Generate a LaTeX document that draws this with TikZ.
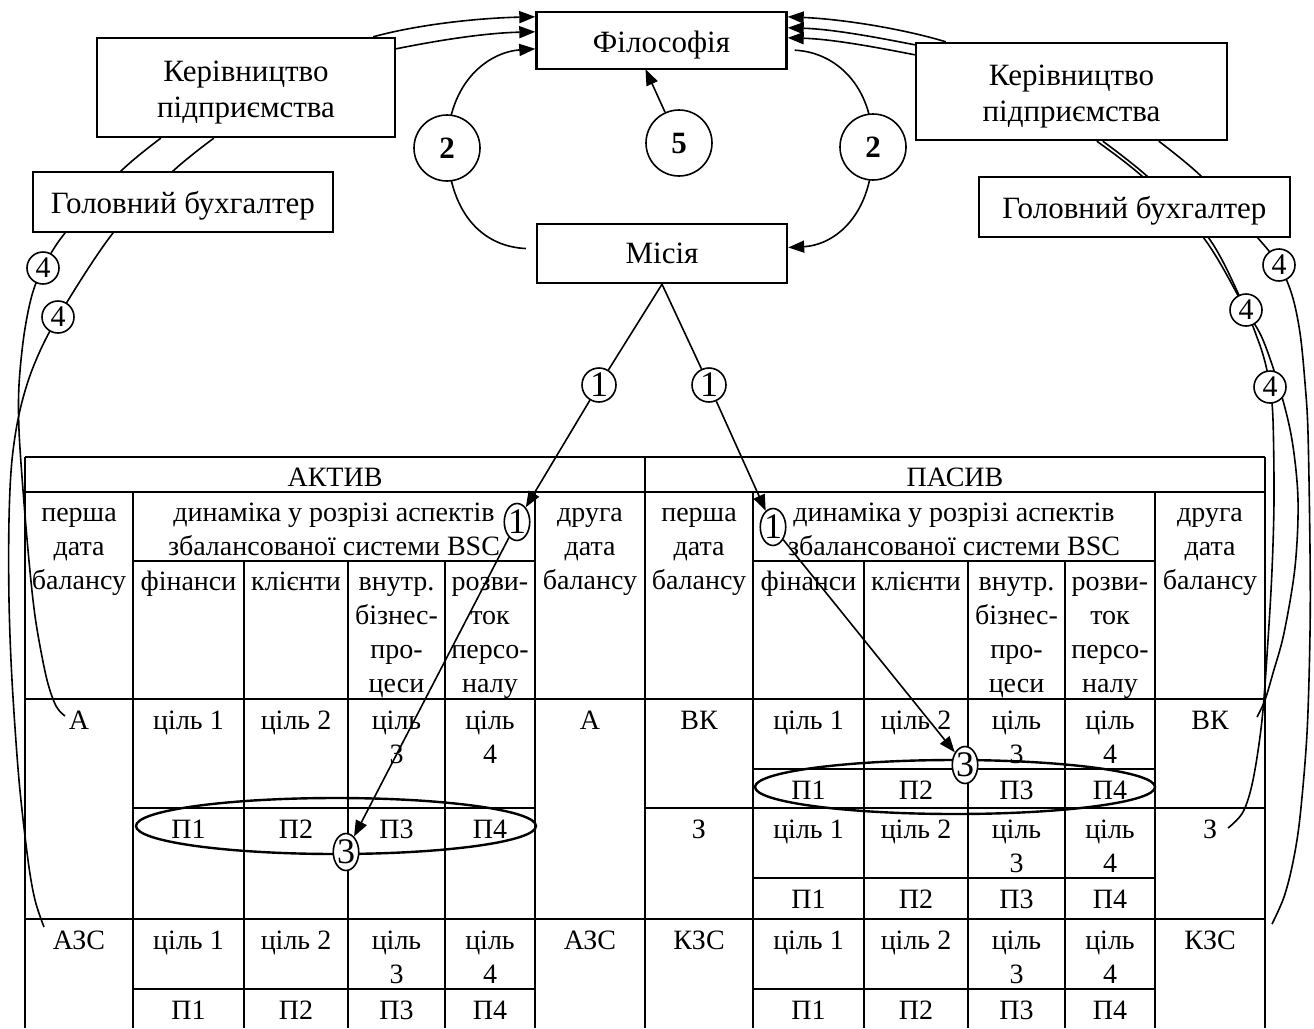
\documentclass[tikz,border=0pt]{standalone}
\usepackage{fontspec}
\setmainfont{Liberation Serif}
\usetikzlibrary{arrows.meta,shapes.geometric,calc}
\newcommand\topfont{\fontsize{31}{36}\selectfont}
\newcommand\tabfont{\fontsize{28}{34}\selectfont}
\newcommand\lowstrut{\rule{0pt}{30pt}}
\newcommand\mkhalfheader[2]{%
 \node[cell] (#1h1) at (79+#2,497) {\strut перша\\дата\\балансу};
 \node[cell] (#1h2) at (334+#2,497) {\strut динаміка у розрізі аспектів\\збалансованої системи BSC};
 \node[cell] (#1h3) at (590+#2,497) {\strut друга\\дата\\балансу};
 \node[cell] (#1s1) at (188.5+#2,566) {\strut фінанси};
 \node[cell] (#1s2) at (296+#2,566) {\strut клієнти};
 \node[cell] (#1s3) at (396.5+#2,566) {\strut внутр.\\бізнес-\\про-\\цеси};
 \node[cell] (#1s4) at (490+#2,566) {\strut розви-\\ток\\персо-\\налу};
}
\newcommand\mkgoalrow[3]{%
 \node[cell] (#1g1) at (188.5+#2,#3+6) {\strut ціль 1};
 \node[cell] (#1g2) at (296+#2,#3+6) {\strut ціль 2};
 \node[cell] (#1g3) at (396.5+#2,#3+6) {\strut ціль\\3};
 \node[cell] (#1g4) at (490+#2,#3+6) {\strut ціль\\4};
}
\newcommand\mkprow[3]{%
 \node[cell] (#1p1) at (188.5+#2,#3+6) {\strut П1};
 \node[cell] (#1p2) at (296+#2,#3+6) {\strut П2};
 \node[cell] (#1p3) at (396.5+#2,#3+6) {\strut П3};
 \node[cell] (#1p4) at (490+#2,#3+6) {\strut П4};
}
\begin{document}
\begin{tikzpicture}[x=1pt,y=-1pt,
  box/.style={draw,line width=2.4pt,fill=white,inner sep=0pt,align=center,font=\topfont},
  numc/.style={circle,draw,line width=1.6pt,fill=white,inner sep=0pt},
  bignum/.style={numc,minimum size=66pt,font=\fontsize{31}{36}\selectfont\bfseries},
  fournum/.style={numc,minimum size=32pt,font=\fontsize{30}{34}\selectfont},
  onenum/.style={numc,minimum size=34pt,font=\fontsize{36}{40}\selectfont},
  ellnum/.style={ellipse,draw,line width=1.6pt,fill=white,inner sep=0pt,minimum width=25pt,minimum height=37pt,font=\fontsize{36}{40}\selectfont},
  conn/.style={line width=1.6pt},
  arr/.style={conn,-{Triangle[length=16pt,width=12pt]}},
  gridline/.style={line width=1.2pt},
  cell/.style={anchor=north,align=center,inner sep=0pt,font=\tabfont},
  oval/.style={ellipse,draw,line width=2.4pt,inner sep=0pt},
]
\useasboundingbox (0,0) rectangle (1314,1028);

% ---------- table grid ----------
\begin{scope}[gridline]
\draw (25,457) -- (1265,457);
\draw (25,492) -- (1265,492);
\draw (25,699) -- (1265,699);
\draw (25,919) -- (1265,919);
\draw (645,808) -- (1265,808);
\draw (133,808) -- (535,808);
\draw (753,769) -- (1155,769);
\draw (753,878) -- (1155,878);
\foreach \s in {0,620} {
  \draw (133+\s,561) -- (535+\s,561);
  \draw (133+\s,989) -- (535+\s,989);
  \draw (133+\s,492) -- (133+\s,1028);
  \draw (535+\s,492) -- (535+\s,1028);
  \foreach \x in {244,348,445} \draw (\x+\s,561) -- (\x+\s,1028);
}
\foreach \x in {25,645,1265} \draw (\x,457) -- (\x,1028);
\end{scope}

% ---------- table text ----------
\node[cell] (hAKT) at (335,462) {\strut АКТИВ};
\node[cell] (hPAS) at (955,462) {\strut ПАСИВ};
\mkhalfheader{L}{0}
\mkhalfheader{R}{620}
\node[cell] (lA) at (79,705) {\strut А};
\node[cell] (lA2) at (590,705) {\strut А};
\mkgoalrow{LA}{0}{699}
\mkprow{LA}{0}{808}
\node[cell] (lAZS) at (79,925) {\strut АЗС};
\node[cell] (lAZS2) at (590,925) {\strut АЗС};
\mkgoalrow{LZ}{0}{919}
\mkprow{LZ}{0}{989}
\node[cell] (rVK1) at (699,705) {\strut ВК};
\node[cell] (rVK) at (1210,705) {\strut ВК};
\mkgoalrow{RV}{620}{699}
\mkprow{RV}{620}{769}
\node[cell] (rZ1) at (699,814) {\strut З};
\node[cell] (rZ) at (1210,814) {\strut З};
\mkgoalrow{RZ}{620}{808}
\mkprow{RZ}{620}{878}
\node[cell] (rKZS1) at (699,925) {\strut КЗС};
\node[cell] (rKZS) at (1210,925) {\strut КЗС};
\mkgoalrow{RK}{620}{919}
\mkprow{RK}{620}{989}

% ovals around П1..П4
\node[oval,minimum width=400pt,minimum height=56pt] (ovL) at (336,826) {};
\node[oval,minimum width=400pt,minimum height=54pt] (ovR) at (955,787) {};

% ---------- main boxes ----------
\node[box,minimum width=250pt,minimum height=57pt] (phil) at (661.5,40.5) {\lowstrut Філософія};
\node[box,minimum width=250pt,minimum height=59pt] (mis) at (662,253.5) {Місія};
\node[box,minimum width=298pt,minimum height=99pt] (kerL) at (246,87.5) {\lowstrut Керівництво\\підприємства};
\node[box,minimum width=311pt,minimum height=97pt] (kerR) at (1071.5,91.5) {\lowstrut Керівництво\\підприємства};

% circle positions
\coordinate (c2Lp) at (447,148);
\coordinate (c2Rp) at (873,147);
\coordinate (c5p) at (679,143);

% hook ends
\coordinate (hA) at (65,716);
\coordinate (hAZS) at (44,927);
\coordinate (hVK) at (1257,717);
\coordinate (hZ) at (1228,828);
\coordinate (hKZS) at (1272,924);

% start points on Керівництво boxes
\coordinate (kLa) at ($(kerL.south west)+(65,0)$);
\coordinate (kLb) at ($(kerL.south west)+(118,0)$);
\coordinate (kRa) at ($(kerR.south west)+(244,0)$);
\coordinate (kRb) at ($(kerR.south west)+(182,0)$);
\coordinate (kRc) at ($(kerR.south west)+(188,0)$);

% ---------- long curves (4) ----------
\draw[conn] plot[smooth,tension=0.55] coordinates {(kLa) (120,172) (65,233) (43,268) (32,295) (24,335) (19,385) (19,430) (23,490) (28,550) (33,600) (38,635) (47,680) (56,706) (hA)};
\draw[conn] plot[smooth,tension=0.55] coordinates {(kLb) (172,172) (113,233) (58,317) (34,365) (20,410) (12,460) (9,520) (9,600) (12,680) (19,780) (28,860) (35,900) (hAZS)};
\draw[conn] plot[smooth,tension=0.55] coordinates {(kRa) (1202,177) (1257,237) (1279,265) (1292,295) (1300,333) (1305,383) (1308,433) (1310,550) (1310,633) (1307,733) (1300,817) (1293,862) (1284,897) (hKZS)};
\draw[conn] plot[smooth,tension=0.55] coordinates {(kRb) (1143,177) (1203,237) (1246,310) (1263,340) (1280,390) (1292,440) (1298,500) (1295,567) (1284,633) (1273,673) (1265,700) (hVK)};
\draw[conn] plot[smooth,tension=0.55] coordinates {(kRc) (1148,177) (1208,237) (1244,306) (1258,340) (1265,362) (1270,387) (1273,420) (1274,500) (1272,570) (1268,640) (1262,720) (1253,780) (1243,812) (hZ)};

% ---------- arrows into Філософія ----------
\draw[arr] ($(kerL.north east)+(-23,0)$) .. controls (420,24) and (480,18) .. ($(phil.north west)+(0,6)$);
\draw[arr] ($(kerL.north east)+(0,12)$) .. controls (440,40) and (485,33) .. ($(phil.north west)+(0,21)$);
\draw[arr] ($(kerR.north west)+(31,0)$) .. controls (900,28) and (840,19) .. ($(phil.north east)+(0,6)$);
\draw[arr] ($(kerR.north west)+(0,3)$) .. controls (870,36) and (830,29) .. ($(phil.north east)+(0,17)$);
\draw[arr] ($(kerR.north west)+(0,13)$) .. controls (870,46) and (830,39) .. ($(phil.north east)+(0,27)$);

% ---------- arcs labelled 2 ----------
\draw[conn] ($(mis.west)+(-10,-5)$) .. controls (488,247) and (450,220) .. (c2Lp);
\draw[arr] (c2Lp) .. controls (448,80) and (490,52) .. ($(phil.north west)+(0,38)$);
\draw[conn] ($(phil.south east)+(7,-20)$) .. controls (835,52) and (873,85) .. (c2Rp);
\draw[arr] (c2Rp) .. controls (873,215) and (835,245) .. ($(mis.east)+(0,-6)$);

% ---------- circles ----------
\node[bignum] (c2L) at (c2Lp) {2};
\node[bignum] (c2R) at (c2Rp) {2};
\node[bignum] (c5) at (c5p) {5};
\draw[arr] (c5) -- ($(phil.south)+(-16,-1)$);

\node[onenum] (c1L) at (599,385) {1};
\node[onenum] (c1R) at (709,385) {1};
\node[ellnum] (e1L) at (517,522) {1};
\node[ellnum] (e1R) at (773,527) {1};
\node[ellnum] (e3L) at (346,852) {3};
\node[ellnum] (e3R) at (965,765) {3};
\draw[conn] (mis.south) -- (c1L);
\draw[conn] (mis.south) -- (c1R);
\draw[arr] (c1L) -- (e1L);
\draw[arr] (c1R) -- (e1R);
\draw[arr] (e1L) -- (e3L);
\draw[arr] (e1R) -- (e3R);

% ---------- Головний бухгалтер boxes (over the curves) ----------
\node[box,minimum width=300pt,minimum height=60pt] (buhL) at (183,202) {\lowstrut Головний бухгалтер};
\node[box,minimum width=311pt,minimum height=60pt] (buhR) at (1134.5,207) {\lowstrut Головний бухгалтер};

% circles 4
\node[fournum] (c4a) at (43,268) {4};
\node[fournum] (c4b) at (58,317) {4};
\node[fournum] (c4d) at (1279,265) {4};
\node[fournum] (c4e) at (1246,310) {4};
\node[fournum] (c4f) at (1270,387) {4};
\end{tikzpicture}
\end{document}
